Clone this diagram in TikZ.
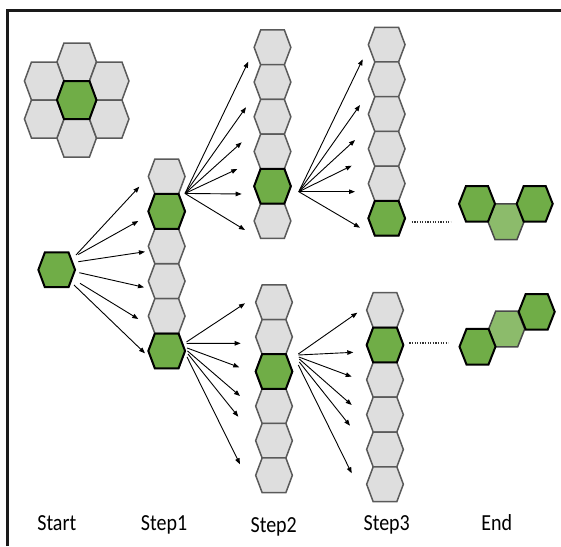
\documentclass[tikz,border=0pt]{standalone}
\usepackage{fontspec}
\setmainfont{Carlito}
\usetikzlibrary{arrows.meta,calc}
\definecolor{hexgray}{HTML}{DEDEDE}
\definecolor{hexedge}{HTML}{5A5A5A}
\definecolor{hexgreen}{HTML}{70AD47}
\definecolor{hexlight}{HTML}{8CBB6B}
\definecolor{framec}{HTML}{1A1A1A}
\newcommand\hexp[6]{%
  \coordinate (#1) at (#2);
  \path[#3] (#1) +(-#4,0) -- +({-#4+#6},-#5) -- +({#4-#6},-#5) -- +(#4,0) -- +({#4-#6},#5) -- +({-#4+#6},#5) -- cycle;}
\newcommand\colhex[3]{\hexp{#1}{#2}{#3}{18.35}{17.4}{6.5}}
\newcommand\bighex[3]{\hexp{#1}{#2}{#3}{19.75}{19}{7}}
\newcommand\finhex[3]{\hexp{#1}{#2}{#3}{18}{17.8}{7}}
\begin{document}
\begin{tikzpicture}[x=1pt,y=-1pt,
  grayhex/.style={fill=hexgray,draw=hexedge,line width=1.5pt,line join=miter},
  greenhex/.style={fill=hexgreen,draw=black,line width=2pt,line join=miter},
  lighthex/.style={fill=hexlight,draw=hexedge!80!black,line width=1.5pt,line join=miter},
  arr/.style={draw=black,line width=0.9pt,-{Triangle[length=6pt,width=4.5pt]}},
  dots/.style={draw=black!80,line width=1.8pt,dash pattern=on 1.2pt off 1.4pt},
  lbl/.style={anchor=base,inner sep=0pt,font=\fontsize{20}{24}\selectfont}]
\useasboundingbox (0,0) rectangle (561,546);
% frame
\draw[framec,line width=3pt] (7.5,546) coordinate (fb) -- (7.5,10.5) coordinate (fc) -- (561,10.5) coordinate (fr);
% cluster
\bighex{k1}{76.7,62}{grayhex}
\bighex{k2}{76.7,138}{grayhex}
\bighex{k3}{44.2,81}{grayhex}
\bighex{k4}{109.2,81}{grayhex}
\bighex{k5}{44.2,119}{grayhex}
\bighex{k6}{109.2,119}{grayhex}
\bighex{k0}{76.7,100}{greenhex}
% start
\colhex{s}{56.7,269.8}{greenhex}
% step1 column
\foreach \i in {1,...,6}{\colhex{a\i}{166.7,{159+34.9*(\i-0.5)}}{grayhex}}
\colhex{a2}{166.7,211.35}{greenhex}
\colhex{a6}{166.7,350.95}{greenhex}
% step2 top column
\foreach \i in {1,...,6}{\colhex{b\i}{272.5,{30+34.72*(\i-0.5)}}{grayhex}}
\colhex{b5}{272.5,186.2}{greenhex}
% step3 top column
\foreach \i in {1,...,6}{\colhex{c\i}{386.7,{27.3+34.73*(\i-0.5)}}{grayhex}}
\colhex{c6}{386.7,218.3}{greenhex}
% step2 bottom column
\foreach \i in {1,...,6}{\colhex{d\i}{274,{285+34.6*(\i-0.5)}}{grayhex}}
\colhex{d3}{274,371.5}{greenhex}
% step3 bottom column
\foreach \i in {1,...,6}{\colhex{e\i}{385,{292.7+34.83*(\i-0.5)}}{grayhex}}
\colhex{e2}{385,345}{greenhex}
% end shapes
\finhex{t2}{506,221.7}{lighthex}
\finhex{t1}{477,203.8}{greenhex}
\finhex{t3}{534.7,203.8}{greenhex}
\finhex{u2}{506.7,329}{lighthex}
\finhex{u1}{477.5,346.7}{greenhex}
\finhex{u3}{536.7,311.8}{greenhex}
% arrow heads (free ends)
\coordinate (h1) at (139.3,186.7);
\coordinate (h2) at (138.3,221);
\coordinate (h3) at (145,251.7);
\coordinate (h4) at (144,287.3);
\coordinate (h5) at (138.3,319);
\coordinate (h6) at (145,353.3);
% start -> step1
\draw[arr] ([shift={(19.3,-14.8)}]s) -- (h1);
\draw[arr] ([shift={(21.6,-15.3)}]s) -- (h2);
\draw[arr] ([shift={(21.6,-8.1)}]s) -- (h3);
\draw[arr] ([shift={(22.6,2.9)}]s) -- (h4);
\draw[arr] ([shift={(23.3,13.5)}]s) -- (h5);
\draw[arr] ([shift={(17.3,15.2)}]s) -- (h6);
% step1 top -> step2
\coordinate (oa) at ([shift={(18.3,-17.9)}]a2);
\foreach \px/\py [count=\j] in {248.3/61.7,246/107.3,241.7/142.3,237.3/169,241.7/194,245/230}{
  \coordinate (ha\j) at (\px,\py);
  \draw[arr] (oa) -- (ha\j);}
% step2 top -> step3
\coordinate (ob) at ([shift={(26.3,5.5)}]b5);
\foreach \px/\py [count=\j] in {362.7/59.3,360/105,355/140,351.7/165.7,355/191.7,360/227.7}{
  \coordinate (hb\j) at (\px,\py);
  \draw[arr] (ob) -- (hb\j);}
% step1 bottom -> step2
\foreach \tx/\ty/\px/\py [count=\j] in {19.8/-9/245/303.3,19.8/-7.5/240.7/343.3,20.3/-3/239.3/367.3,20.8/0/240/396,21.3/3/238.3/416.7,20.3/6/240/464.3}{
  \coordinate (hd\j) at (\px,\py);
  \draw[arr] ([shift={(\tx,\ty)}]a6) -- (hd\j);}
% step2 bottom -> step3
\foreach \tx/\ty/\px/\py [count=\j] in {24.3/-17.5/357.3/312.7,24.3/-16.5/353.3/352.3,24.8/-14.5/351.7/376.7,25.3/-12.5/351.7/405,25.3/-9.5/350/425.7,24.3/-6.5/351.7/473.3}{
  \coordinate (he\j) at (\px,\py);
  \draw[arr] ([shift={(\tx,\ty)}]d3) -- (he\j);}
% dotted continuation
\draw[dots] ([shift={(25,3.4)}]c6) -- ([shift={(-26.3,17.9)}]t1);
\draw[dots] ([shift={(24.3,-1.7)}]e2) -- ([shift={(-29.2,-3.4)}]u1);
% labels
\node[lbl] (l0) at (56.8,530) {\scalebox{1}[1.15]{Start}};
\node[lbl] (l1) at (164,530) {\scalebox{1}[1.15]{Step1}};
\node[lbl] (l2) at (273.7,532.5) {\scalebox{1}[1.15]{Step2}};
\node[lbl] (l3) at (386.7,530) {\scalebox{1}[1.15]{Step3}};
\node[lbl] (l4) at (496.7,530) {\scalebox{1}[1.15]{End}};
\end{tikzpicture}
\end{document}
